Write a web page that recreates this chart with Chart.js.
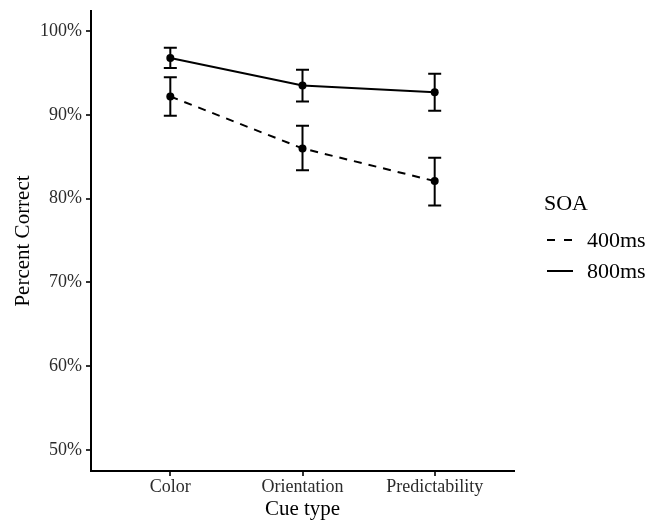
<!DOCTYPE html>
<html>
<head>
<meta charset="utf-8">
<script src="https://cdn.jsdelivr.net/npm/chart.js@4"></script>
<style>
  body { margin: 0; background: #fff; }
  canvas { display: block; }
</style>
</head>
<body>
<canvas id="myChart" width="661" height="522"></canvas>
<script>
const categories = ['Color', 'Orientation', 'Predictability'];
const seriesNames = ['400ms', '800ms'];
const means400 = [92.2, 86.0, 82.1];
const low400 = [89.9, 83.4, 79.2];
const high400 = [94.5, 88.7, 84.9];
const means800 = [96.8, 93.5, 92.7];
const low800 = [95.6, 91.6, 90.5];
const high800 = [98.0, 95.4, 94.9];
const yTicks = [50, 60, 70, 80, 90, 100];

const serif = 'Liberation Serif';
Chart.defaults.font.family = serif;
Chart.defaults.color = '#2b2b2b';

function points(values) {
    return values.map((v, i) => ({ x: i + 1, y: v }));
}

const errLow = [low400, low800];
const errHigh = [high400, high800];

const errorBars = {
    id: 'errorBars',
    beforeDatasetsDraw(chart) {
        const { ctx, scales: { x, y } } = chart;
        ctx.save();
        ctx.strokeStyle = '#000';
        ctx.lineWidth = 2;
        ctx.setLineDash([]);
        errLow.forEach((lows, d) => {
            lows.forEach((lo, i) => {
                const px = x.getPixelForValue(i + 1);
                const y1 = y.getPixelForValue(lo);
                const y2 = y.getPixelForValue(errHigh[d][i]);
                ctx.beginPath();
                ctx.moveTo(px, y1); ctx.lineTo(px, y2);
                ctx.moveTo(px - 6.5, y1); ctx.lineTo(px + 6.5, y1);
                ctx.moveTo(px - 6.5, y2); ctx.lineTo(px + 6.5, y2);
                ctx.stroke();
            });
        });
        ctx.restore();
    }
};

// legend drawn like ggplot's: title on top, line keys, labels
const soaLegend = {
    id: 'soaLegend',
    afterDraw(chart) {
        const ctx = chart.ctx;
        ctx.save();
        ctx.fillStyle = '#000';
        ctx.font = '22px "' + serif + '"';
        ctx.textBaseline = 'middle';
        ctx.textAlign = 'left';
        ctx.fillText('SOA', 544, 204);
        ctx.strokeStyle = '#000';
        ctx.lineWidth = 2;
        seriesNames.forEach((name, i) => {
            const yy = 240 + i * 31;
            ctx.setLineDash(i === 0 ? [8, 9] : []);
            ctx.beginPath();
            ctx.moveTo(547, yy);
            ctx.lineTo(573, yy);
            ctx.stroke();
            ctx.fillText(name, 587, yy + 1);
        });
        ctx.restore();
    }
};

const ctx = document.getElementById('myChart');
const myChart = new Chart(ctx, {
    type: 'line',
    data: {
        datasets: [{
            label: seriesNames[0],
            data: points(means400),
            borderColor: '#000',
            backgroundColor: '#000',
            borderWidth: 2,
            borderDash: [8, 7],
            pointRadius: 4,
            pointBorderWidth: 0,
            pointBackgroundColor: '#000'
        },
        {
            label: seriesNames[1],
            data: points(means800),
            borderColor: '#000',
            backgroundColor: '#000',
            borderWidth: 2,
            pointRadius: 4,
            pointBorderWidth: 0,
            pointBackgroundColor: '#000'
        }]
    },
    options: {
        responsive: false,
        animation: false,
        layout: { padding: { top: 11, right: 147, left: 0, bottom: 0 } },
        plugins: {
            legend: { display: false },
            tooltip: { enabled: false }
        },
        scales: {
            x: {
                type: 'linear',
                min: 0.4,
                max: 3.6,
                afterBuildTicks: s => { s.ticks = categories.map((c, i) => ({ value: i + 1 })); },
                afterFit: s => { s.height = 51; s.paddingLeft = 0; s.paddingRight = 0; },
                ticks: {
                    callback: v => categories[v - 1],
                    font: { size: 18 },
                    padding: 0,
                    maxRotation: 0,
                    autoSkip: false
                },
                grid: { drawOnChartArea: false, drawTicks: true, tickLength: 5, color: '#333', lineWidth: 2 },
                border: { display: true, color: '#000', width: 2 },
                title: {
                    display: true,
                    text: 'Cue type',
                    color: '#000',
                    font: { size: 21, lineHeight: 1 },
                    padding: { top: 0, bottom: 2 }
                }
            },
            y: {
                min: 47.5,
                max: 102.4,
                afterBuildTicks: s => { s.ticks = yTicks.map(v => ({ value: v })); },
                afterFit: s => { s.width = 91; s.paddingTop = 0; s.paddingBottom = 0; },
                ticks: {
                    callback: v => v + '%',
                    font: { size: 18 },
                    padding: 4
                },
                grid: { drawOnChartArea: false, drawTicks: true, tickLength: 5, color: '#333', lineWidth: 2 },
                border: { display: true, color: '#000', width: 2 },
                title: {
                    display: true,
                    text: 'Percent Correct',
                    color: '#000',
                    font: { size: 21, lineHeight: 1 },
                    padding: { top: 13, bottom: 0 }
                }
            }
        }
    },
    plugins: [errorBars, soaLegend]
});
</script>
</body>
</html>
